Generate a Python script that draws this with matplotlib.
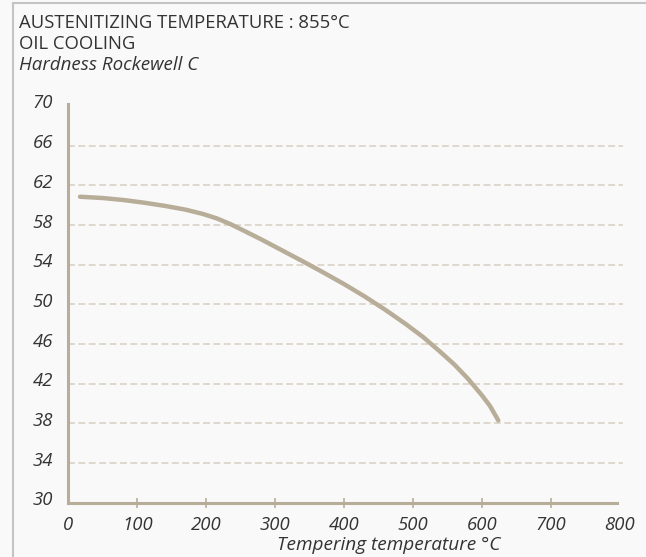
import numpy as np
import matplotlib
matplotlib.use('Agg')
import matplotlib.pyplot as plt
from matplotlib.transforms import ScaledTranslation

# hardness after tempering
temp = [17, 50, 80, 110, 140, 170, 195, 215, 235, 255, 280, 310, 340, 370, 400,
        430, 460, 490, 515, 540, 560, 580, 600, 612, 624]
hardness = [60.85, 60.72, 60.52, 60.25, 59.93, 59.55, 59.12, 58.68, 58.10, 57.42,
            56.55, 55.45, 54.35, 53.22, 52.05, 50.80, 49.45, 48.00, 46.70, 45.20,
            43.95, 42.50, 40.85, 39.75, 38.30]

xticks = [0, 100, 200, 300, 400, 500, 600, 700, 800]
yticks = [30, 34, 38, 42, 46, 50, 54, 58, 62, 66, 70]

title_1 = 'AUSTENITIZING TEMPERATURE : 855°C'
title_2 = 'OIL COOLING'
ylabel = 'Hardness Rockewell C'
xlabel = 'Tempering temperature °C'

beige = '#b8ad98'
grid_c = '#d6cfc2'
text_c = '#333333'
bg = '#f9f9f9'

W, H = 646, 557
plt.rcParams['font.family'] = ['Open Sans', 'DejaVu Sans']
plt.rcParams['font.style'] = 'italic'
fig = plt.figure(figsize=(W / 100, H / 100), dpi=100, facecolor=bg)

# axes placed in pixels
x0, x1 = 68.3, 623.0
y30, y70 = 502.7, 106.0
ax = fig.add_axes([x0 / W, 1 - y30 / H, (x1 - x0) / W, (y30 - y70) / H])
ax.set_facecolor(bg)
ax.set_xlim(0, 805)
ax.set_ylim(30, 70)

# dashed grid lines
for y in yticks[1:-1]:
    ax.axhline(y, color=grid_c, lw=1.1, ls=(0, (4.5, 2.3)), zorder=1)

ax.plot(temp, hardness, color=beige, lw=3.2, solid_capstyle='round',
        solid_joinstyle='round', zorder=3)

for s in ['top', 'right']:
    ax.spines[s].set_visible(False)
for s in ['left', 'bottom']:
    ax.spines[s].set_color(beige)
    ax.spines[s].set_linewidth(2.2)
ax.spines['left'].set_bounds(30, 70.2)
ax.spines['bottom'].set_bounds(0, 797)

ax.set_xticks(xticks)
ax.set_xticklabels([str(v) for v in xticks])
ax.tick_params(axis='x', direction='inout', length=7, width=1.2, color=beige, pad=6,
               labelsize=13.3, labelcolor=text_c)
ticks = ax.xaxis.get_major_ticks()
ticks[0].tick1line.set_visible(False)
ticks[-1].tick1line.set_visible(False)

ax.set_yticks(yticks)
ax.set_yticklabels([str(v) for v in yticks])
ax.tick_params(axis='y', length=0, pad=11, labelsize=13.3, labelcolor=text_c)
for lab in ax.get_xticklabels() + ax.get_yticklabels():
    lab.set_fontstyle('italic')
for lab in ax.get_yticklabels():
    lab.set_transform(lab.get_transform() + ScaledTranslation(0, 4.5 / 100, fig.dpi_scale_trans))

# titles
fig.text(19 / W, 1 - 28 / H, title_1, fontsize=13.3, color=text_c, ha='left',
         va='baseline', style='normal')
fig.text(19 / W, 1 - 49 / H, title_2, fontsize=13.3, color=text_c, ha='left',
         va='baseline', style='normal')
fig.text(19 / W, 1 - 70 / H, ylabel, fontsize=13.5, style='italic', color=text_c,
         ha='left', va='baseline')
fig.text(500 / W, 1 - 550 / H, xlabel, fontsize=13.7, style='italic', color=text_c,
         ha='right', va='baseline')

# frame lines on top and left
fig.add_artist(plt.Line2D([13 / W, 1], [1 - 3 / H, 1 - 3 / H], color='#c4c4c4', lw=1.5))
fig.add_artist(plt.Line2D([13 / W, 13 / W], [0, 1 - 3 / H], color='#c4c4c4', lw=1.5))

fig.savefig('out.png', dpi=100, facecolor=bg)
